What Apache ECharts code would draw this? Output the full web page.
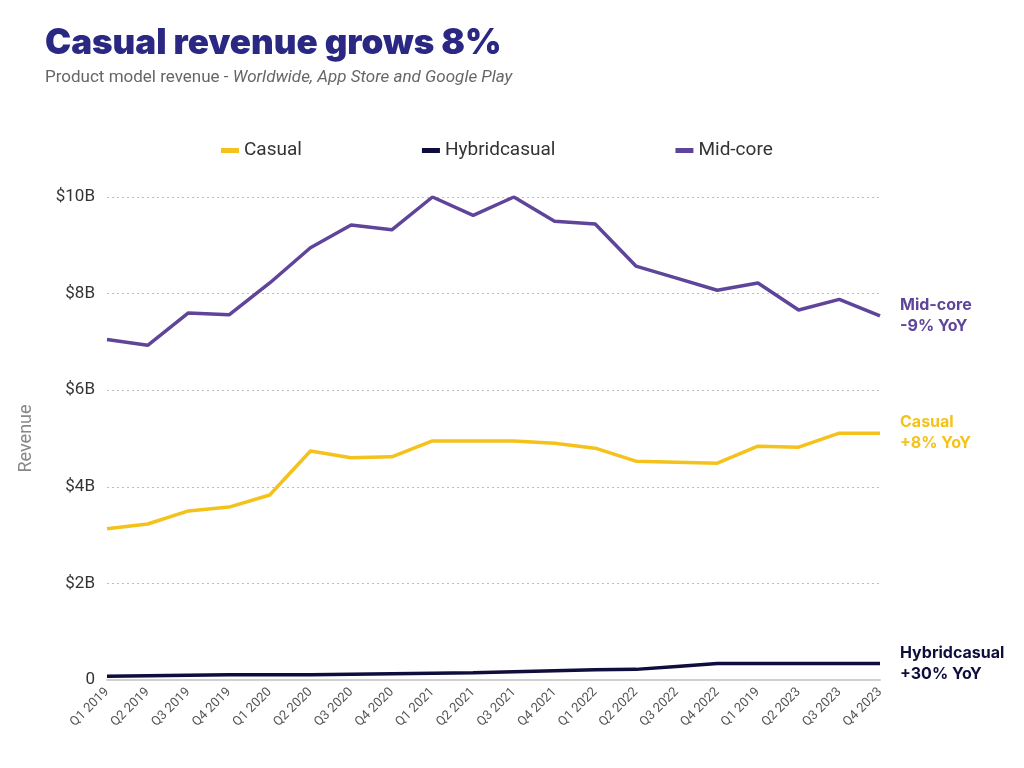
<!DOCTYPE html>
<html>
<head>
<meta charset="utf-8">
<script src="https://cdn.jsdelivr.net/npm/echarts@6/dist/echarts.min.js"></script>
<style>
  html, body { margin: 0; padding: 0; background: #fff; }
  #chart { width: 1024px; height: 768px; }
</style>
</head>
<body>
<div id="chart"></div>
<script>
// categories (the source repeats "Q1 2019" where Q1 2023 should be)
var quarters = ['Q1 2019', 'Q2 2019', 'Q3 2019', 'Q4 2019', 'Q1 2020', 'Q2 2020', 'Q3 2020', 'Q4 2020',
  'Q1 2021', 'Q2 2021', 'Q3 2021', 'Q4 2021', 'Q1 2022', 'Q2 2022', 'Q3 2022', 'Q4 2022',
  'Q1 2019', 'Q2 2023', 'Q3 2023', 'Q4 2023'];

// revenue, $B
var casual = [3.13, 3.23, 3.50, 3.58, 3.83, 4.74, 4.60, 4.62, 4.95, 4.95, 4.95, 4.90, 4.80, 4.53, 4.51, 4.49, 4.84, 4.82, 5.11, 5.11];
var hybridcasual = [0.08, 0.09, 0.10, 0.11, 0.11, 0.11, 0.12, 0.13, 0.14, 0.15, 0.17, 0.19, 0.21, 0.22, 0.28, 0.34, 0.34, 0.34, 0.34, 0.34];
var midcore = [7.05, 6.93, 7.60, 7.56, 8.22, 8.95, 9.42, 9.32, 10.0, 9.62, 10.0, 9.50, 9.44, 8.57, 8.32, 8.07, 8.22, 7.66, 7.88, 7.54];

var endNotes = { 'Casual': '+8% YoY', 'Hybridcasual': '+30% YoY', 'Mid-core': '-9% YoY' };

var colors = { 'Casual': '#f4c21a', 'Hybridcasual': '#0e0d3d', 'Mid-core': '#5f4599' };

function mkSeries(name, data) {
  return {
    name: name,
    type: 'line',
    data: data,
    symbol: 'none',
    lineStyle: { width: 3.5, color: colors[name] },
    itemStyle: { color: colors[name] },
    endLabel: {
      show: true,
      distance: 20,
      color: colors[name],
      fontFamily: 'Inter',
      fontWeight: 'bold',
      fontSize: 16,
      lineHeight: 21,
      formatter: function () { return name + '\n' + endNotes[name]; }
    }
  };
}

var myChart = echarts.init(document.getElementById('chart'));
var option = {
  backgroundColor: '#fff',
  animation: false,
  title: {
    left: 40,
    top: 21,
    text: 'Casual revenue grows 8%',
    textStyle: { color: '#2b2883', fontFamily: 'Inter', fontWeight: 900, fontSize: 35 },
    subtext: '{n|Product model revenue - }{i|Worldwide, App Store and Google Play}',
    subtextStyle: {
      rich: {
        n: { color: '#666', fontFamily: 'Roboto', fontSize: 17 },
        i: { color: '#666', fontFamily: 'Roboto', fontSize: 17, fontStyle: 'italic' }
      }
    },
    itemGap: 8
  },
  legend: {
    top: 136,
    left: 216,
    itemGap: 120,
    itemWidth: 18,
    itemHeight: 5,
    icon: 'rect',
    textStyle: { color: '#333', fontFamily: 'Roboto', fontSize: 19 },
    data: ['Casual', 'Hybridcasual', 'Mid-core']
  },
  grid: { left: 107, right: 144, top: 197, bottom: 88 },
  xAxis: {
    type: 'category',
    data: quarters,
    boundaryGap: false,
    axisLine: { show: true, lineStyle: { color: '#d0d0d0', width: 2 } },
    axisTick: { show: false },
    axisLabel: { rotate: 45, color: '#555', fontFamily: 'Roboto', fontSize: 13, margin: 10 }
  },
  yAxis: {
    type: 'value',
    min: 0,
    max: 10,
    interval: 2,
    name: 'Revenue',
    nameLocation: 'middle',
    nameGap: 72,
    nameTextStyle: { color: '#888', fontFamily: 'Roboto', fontSize: 18 },
    axisLine: { show: false },
    axisTick: { show: false },
    axisLabel: {
      color: '#333', fontFamily: 'Roboto', fontSize: 17, margin: 12,
      formatter: function (v) { return v === 0 ? '0' : '$' + v + 'B'; }
    },
    splitLine: { show: true, lineStyle: { color: '#bdbdbd', type: [2, 3], width: 1 } }
  },
  series: [
    mkSeries('Casual', casual),
    mkSeries('Hybridcasual', hybridcasual),
    mkSeries('Mid-core', midcore)
  ]
};
myChart.setOption(option);
</script>
</body>
</html>
